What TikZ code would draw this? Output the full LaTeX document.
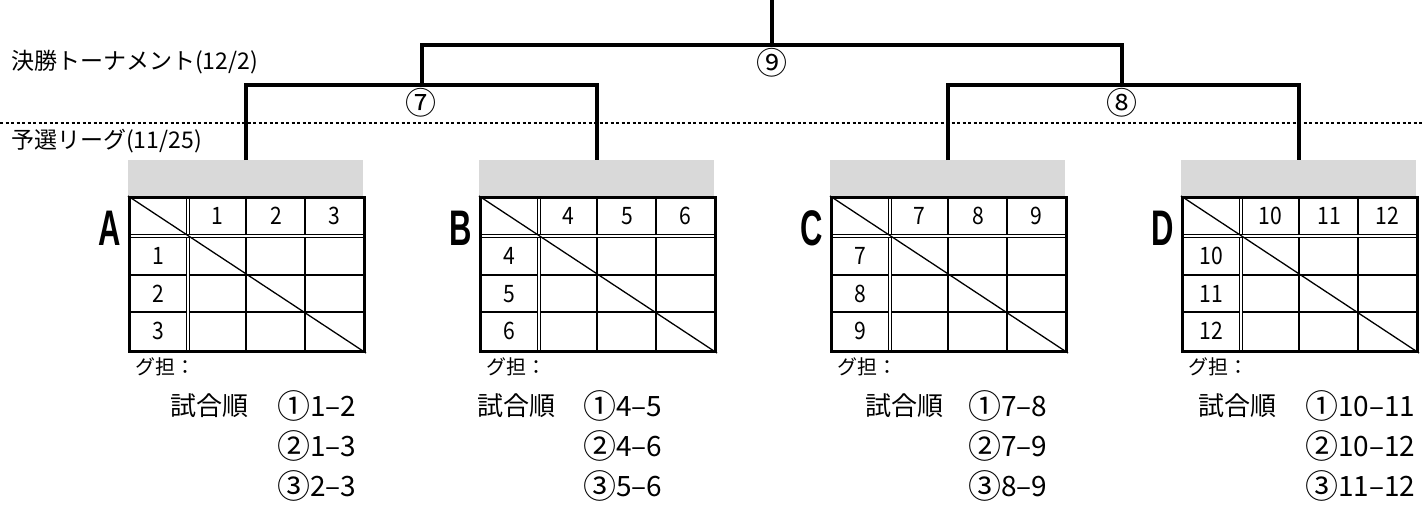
\documentclass[tikz,border=0pt]{standalone}
\usepackage{fontspec}
\usepackage{graphicx}
\setmainfont{Noto Sans CJK JP}
\newfontfamily\letterfont{Liberation Sans}
\definecolor{boxgray}{HTML}{D9D9D9}
\newcommand\ordcircle[1]{\raisebox{-2pt}{\fontsize{33}{36}\selectfont #1}}
\newcommand\ordpair[1]{{\fontsize{28}{32}\selectfont #1}}
\tikzset{
  bracket/.style={line width=4pt, line join=miter},
  dashline/.style={line width=1.2pt, dash pattern=on 3pt off 2.5pt},
  graybox/.style={fill=boxgray, draw=none, inner sep=0pt, anchor=north west, minimum width=235pt, minimum height=36pt},
  tablebox/.style={draw, line width=3pt, inner sep=0pt, anchor=north west, minimum width=235pt, minimum height=154pt},
  gridline/.style={line width=1.5pt},
  dblline/.style={double, double distance=1.6pt, line width=1pt},
  diagline/.style={line width=1.3pt},
  label/.style={font=\fontsize{23}{27}\selectfont, inner sep=0pt},
  roundlbl/.style={font=\fontsize{31}{34}\selectfont, inner sep=0pt},
  cellnum/.style={font=\fontsize{24}{28}\selectfont, inner sep=0pt, xscale=0.88},
  grpletter/.style={font=\letterfont\bfseries\fontsize{50}{52}\selectfont, inner sep=0pt, xscale=0.62},
  tanto/.style={font=\fontsize{20}{24}\selectfont, inner sep=0pt, anchor=west},
  order/.style={font=\fontsize{26}{30}\selectfont, inner sep=0pt, anchor=west},
}
\begin{document}
\begin{tikzpicture}[x=1pt,y=-1pt]
\useasboundingbox[fill=white] (0,0) rectangle (1424,506);
% stage labels and separator
\node[label, anchor=west] (final) at (11,62) {決勝トーナメント(12/2)};
\node[label, anchor=west] (prelim) at (11,141) {予選リーグ(11/25)};
\coordinate (dl) at (0,123);
\coordinate (dr) at (1424,123);
\draw[dashline] (dl) -- (dr);
% groups
\foreach \x/\L/\a/\b/\c/\s/\m in {128/A/1/2/3/170/277, 479/B/4/5/6/477/583, 830/C/7/8/9/865/968, 1181/D/10/11/12/1198/1305}{
  \node[graybox] (hdr\L) at (\x,160) {};
  \draw[gridline] (\x+118,196) -- (\x+118,350);
  \draw[gridline] (\x+177,196) -- (\x+177,350);
  \draw[gridline] (\x,275) -- (\x+235,275);
  \draw[gridline] (\x,312) -- (\x+235,312);
  \draw[dblline] (\x+60,196) -- (\x+60,350);
  \draw[dblline] (\x,236) -- (\x+235,236);
  \node[tablebox] (tab\L) at (\x,196) {};
  \draw[diagline] (tab\L.north west) -- (tab\L.south east);
  \node[cellnum] (c1\L) at (\x+89,216) {\a};
  \node[cellnum] (c2\L) at (\x+148,216) {\b};
  \node[cellnum] (c3\L) at (\x+206,216) {\c};
  \node[cellnum] (r1\L) at (\x+30,256) {\a};
  \node[cellnum] (r2\L) at (\x+30,294) {\b};
  \node[cellnum] (r3\L) at (\x+30,331) {\c};
  \node[grpletter] (let\L) at (\x-18,228) {\L};
  \node[tanto] (gt\L) at (\x+7,367) {グ担：};
  \node[order] (ord\L) at (\s,406) {試合順};
  \node[order] (o1\L) at (\m,406) {\ordcircle{①}\ordpair{\a–\b}};
  \node[order] (o2\L) at (\m,446) {\ordcircle{②}\ordpair{\a–\c}};
  \node[order] (o3\L) at (\m,486) {\ordcircle{③}\ordpair{\b–\c}};
}
% bracket
\coordinate (m7) at (421.5,85);
\coordinate (m8) at (1122,85);
\coordinate (m9) at (771.75,45);
\coordinate (top) at (771.75,0);
\draw[bracket] (hdrA.north) |- (m7) -| (hdrB.north);
\draw[bracket] (hdrC.north) |- (m8) -| (hdrD.north);
\draw[bracket] (m7) |- (m9) -| (m8);
\draw[bracket] (m9) -- (top);
\node[roundlbl] (l7) at (421,103) {⑦};
\node[roundlbl] (l8) at (1122,103) {⑧};
\node[roundlbl] (l9) at (772,63) {⑨};
\end{tikzpicture}
\end{document}
